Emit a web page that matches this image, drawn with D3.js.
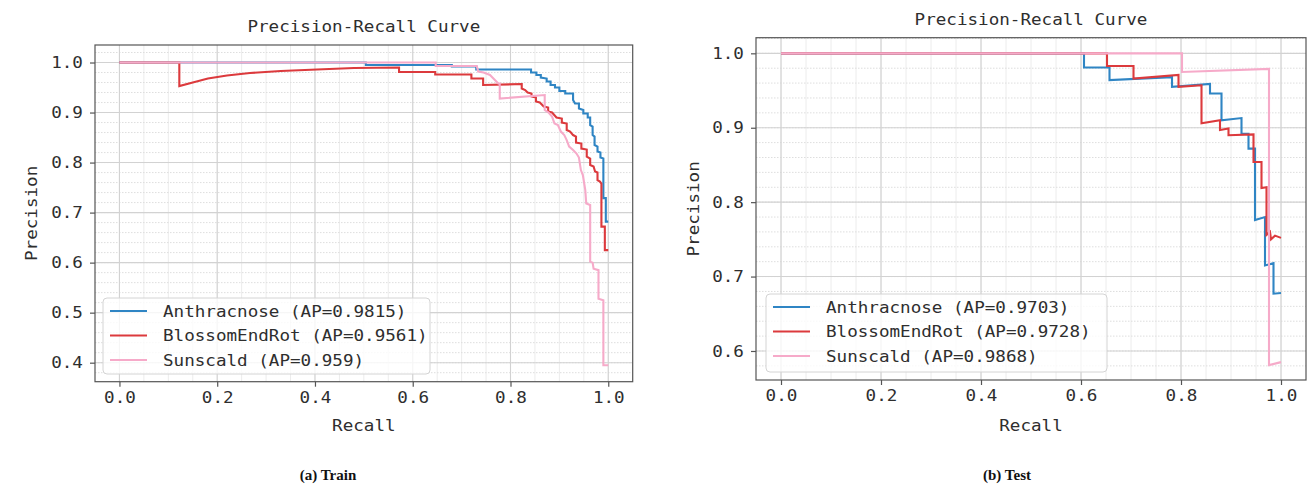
<!DOCTYPE html>
<html>
<head>
<meta charset="utf-8">
<script src="https://d3js.org/d3.v7.min.js"></script>
<style>
body { margin: 0; background: #fff; }
svg { display: block; }
</style>
</head>
<body>
<svg id="chart" width="1309" height="487"></svg>
<script>
// class names, colours and AP values shown in the legends
var classNames = ["Anthracnose", "BlossomEndRot", "Sunscald"];
var classColors = ["#2f85c4", "#dc3a3d", "#f6aac9"];
var trainAP = ["0.9815", "0.9561", "0.959"];
var testAP = ["0.9703", "0.9728", "0.9868"];

// tick labels
var recallTicks = [0.0, 0.2, 0.4, 0.6, 0.8, 1.0];
var trainPrecisionTicks = [0.4, 0.5, 0.6, 0.7, 0.8, 0.9, 1.0];
var testPrecisionTicks = [0.6, 0.7, 0.8, 0.9, 1.0];

// curves, [recall, precision]
var trainAnthracnose = [[0,1.0],[0.504,1.0],[0.504,0.995],[0.680,0.995],[0.680,0.992],[0.730,0.992],[0.730,0.986],
  [0.842,0.986],[0.842,0.980],[0.853,0.980],[0.853,0.975],[0.862,0.975],[0.862,0.970],[0.874,0.968],[0.874,0.962],
  [0.882,0.962],[0.882,0.955],[0.891,0.955],[0.891,0.950],[0.900,0.950],[0.900,0.943],[0.912,0.943],[0.912,0.938],
  [0.928,0.938],[0.928,0.925],[0.932,0.918],[0.940,0.918],[0.940,0.908],[0.949,0.905],[0.949,0.898],[0.958,0.898],
  [0.958,0.890],[0.963,0.890],[0.963,0.875],[0.968,0.872],[0.968,0.855],[0.972,0.852],[0.972,0.835],[0.978,0.832],
  [0.978,0.822],[0.984,0.820],[0.984,0.810],[0.990,0.808],[0.990,0.729],[0.995,0.729],[0.995,0.682],[1.0,0.682]];
var trainBlossomEndRot = [[0,1.0],[0.1225,1.0],[0.1225,0.953],[0.15,0.960],[0.181,0.968],[0.22,0.974],[0.267,0.979],
  [0.33,0.983],[0.404,0.986],[0.48,0.989],[0.572,0.990],[0.572,0.981],[0.646,0.981],[0.646,0.976],[0.720,0.976],
  [0.720,0.968],[0.744,0.968],[0.744,0.955],[0.823,0.957],[0.823,0.948],[0.830,0.945],[0.835,0.940],[0.843,0.938],
  [0.843,0.932],[0.852,0.930],[0.852,0.922],[0.860,0.920],[0.868,0.912],[0.877,0.910],[0.877,0.902],[0.885,0.900],
  [0.894,0.890],[0.905,0.888],[0.905,0.880],[0.915,0.878],[0.915,0.865],[0.922,0.862],[0.928,0.855],[0.934,0.852],
  [0.934,0.840],[0.945,0.838],[0.945,0.828],[0.956,0.826],[0.956,0.812],[0.963,0.808],[0.963,0.795],[0.970,0.792],
  [0.973,0.782],[0.978,0.780],[0.978,0.765],[0.983,0.762],[0.986,0.758],[0.986,0.672],[0.993,0.672],[0.993,0.625],
  [1.0,0.625]];
var trainSunscald = [[0,1.0],[0.647,1.0],[0.647,0.993],[0.731,0.993],[0.734,0.982],[0.745,0.980],[0.758,0.975],
  [0.775,0.958],[0.778,0.958],[0.778,0.928],[0.870,0.935],[0.870,0.905],[0.878,0.900],[0.885,0.892],[0.890,0.878],
  [0.897,0.875],[0.903,0.862],[0.910,0.855],[0.915,0.845],[0.920,0.832],[0.928,0.825],[0.935,0.818],[0.940,0.810],
  [0.944,0.785],[0.948,0.775],[0.953,0.745],[0.955,0.718],[0.963,0.715],[0.963,0.602],[0.968,0.600],[0.970,0.588],
  [0.980,0.585],[0.980,0.528],[0.990,0.525],[0.990,0.395],[1.0,0.395]];

var testAnthracnose = [[0,1.0],[0.606,1.0],[0.606,0.981],[0.657,0.981],[0.657,0.964],[0.782,0.968],[0.782,0.955],
  [0.858,0.959],[0.858,0.946],[0.881,0.946],[0.881,0.910],[0.921,0.913],[0.921,0.892],[0.935,0.892],[0.935,0.872],
  [0.948,0.872],[0.948,0.776],[0.968,0.780],[0.968,0.715],[0.985,0.718],[0.985,0.677],[1.0,0.678]];
var testBlossomEndRot = [[0,1.0],[0.652,1.0],[0.652,0.983],[0.705,0.983],[0.705,0.966],[0.795,0.971],[0.795,0.955],
  [0.841,0.957],[0.841,0.906],[0.878,0.910],[0.878,0.897],[0.895,0.899],[0.895,0.890],[0.945,0.891],[0.945,0.854],
  [0.961,0.854],[0.961,0.819],[0.971,0.820],[0.971,0.756],[0.978,0.760],[0.980,0.750],[0.988,0.755],[1.0,0.752]];
var testSunscald = [[0,1.0],[0.802,1.0],[0.802,0.975],[0.976,0.979],[0.976,0.581],[1.0,0.585]];

var svg = d3.select("#chart");
var monoFont = "'DejaVu Sans Mono', monospace";
var stretch = 1.1;   // text in the picture is a bit wider than the font

//draw one panel
function drawPanel(p) {
	var g = svg.append("g");
	var x = d3.scaleLinear().domain([-0.05, 1.05]).range(p.xRange);
	var y = d3.scaleLinear().domain(p.yDomain).range(p.yRange);

	//minor grid
	var minorX = d3.range(0, 1.0001, 0.05);
	var minorY = d3.range(0, 1.05, 0.02).filter(function(v) { return v > p.yDomain[0] && v < p.yDomain[1]; });
	g.selectAll(".minx").data(minorX).enter().append("line")
	.attr("x1", function(d) { return x(d); }).attr("x2", function(d) { return x(d); })
	.attr("y1", p.yRange[0]).attr("y2", p.yRange[1])
	.attr("stroke", "#ececec").attr("stroke-width", 1);
	g.selectAll(".miny").data(minorY).enter().append("line")
	.attr("x1", p.xRange[0]).attr("x2", p.xRange[1])
	.attr("y1", function(d) { return y(d); }).attr("y2", function(d) { return y(d); })
	.attr("stroke", "#dedede").attr("stroke-width", 1).attr("stroke-dasharray", "1.5,1.5");

	//major grid
	g.selectAll(".majx").data(recallTicks).enter().append("line")
	.attr("x1", function(d) { return x(d); }).attr("x2", function(d) { return x(d); })
	.attr("y1", p.yRange[0]).attr("y2", p.yRange[1])
	.attr("stroke", "#d2d2d2").attr("stroke-width", 1.1);
	g.selectAll(".majy").data(p.yTicks).enter().append("line")
	.attr("x1", p.xRange[0]).attr("x2", p.xRange[1])
	.attr("y1", function(d) { return y(d); }).attr("y2", function(d) { return y(d); })
	.attr("stroke", "#d2d2d2").attr("stroke-width", 1.1);

	//curves
	var line = d3.line().x(function(d) { return x(d[0]); }).y(function(d) { return y(d[1]); });
	g.selectAll(".curve").data(p.series).enter().append("path")
	.attr("d", line)
	.attr("fill", "none")
	.attr("stroke", function(d, i) { return classColors[i]; })
	.attr("stroke-width", 2.1)
	.attr("stroke-linejoin", "miter");

	//frame
	g.append("rect")
	.attr("x", p.xRange[0]).attr("y", p.yRange[1])
	.attr("width", p.xRange[1] - p.xRange[0]).attr("height", p.yRange[0] - p.yRange[1])
	.attr("fill", "none").attr("stroke", "#555").attr("stroke-width", 1.2);

	//axes
	var xAxis = g.append("g")
	.attr("transform", "translate(0," + p.yRange[0] + ")")
	.call(d3.axisBottom(x).tickValues(recallTicks).tickFormat(d3.format(".1f")).tickSize(5).tickPadding(5));
	var yAxis = g.append("g")
	.attr("transform", "translate(" + p.xRange[0] + ",0)")
	.call(d3.axisLeft(y).tickValues(p.yTicks).tickFormat(d3.format(".1f")).tickSize(5).tickPadding(6));
	[xAxis, yAxis].forEach(function(a) {
		a.select(".domain").remove();
		a.selectAll("line").attr("stroke", "#555").attr("stroke-width", 1.2);
		a.selectAll("text").attr("font-family", monoFont).attr("font-size", 16).attr("fill", "#2e2e2e")
		.attr("transform", "scale(" + stretch + ",1)");
	});

	//legend
	var lg = g.append("g");
	lg.append("rect")
	.attr("x", p.legend.x).attr("y", p.legend.y)
	.attr("width", p.legend.w).attr("height", p.legend.h)
	.attr("rx", 4).attr("fill", "#fff").attr("fill-opacity", 0.8)
	.attr("stroke", "#d4d4d4").attr("stroke-width", 1);
	classNames.forEach(function(name, i) {
		var cy = p.legend.y + 13 + i * 24.5;
		lg.append("line")
		.attr("x1", p.legend.x + 7).attr("x2", p.legend.x + 44)
		.attr("y1", cy).attr("y2", cy)
		.attr("stroke", classColors[i]).attr("stroke-width", 2.1);
		mono(lg, p.legend.x + 60, cy + 5.5, name + " (AP=" + p.ap[i] + ")", "start");
	});

	//titles
	var cx = (p.xRange[0] + p.xRange[1]) / 2;
	mono(g, cx, p.titleY, "Precision-Recall Curve", "middle");
	mono(g, cx, 431, "Recall", "middle");
	g.append("text")
	.attr("transform", "translate(" + p.yLabelX + "," + ((p.yRange[0] + p.yRange[1]) / 2) + ") rotate(-90) scale(" + stretch + ",1)")
	.attr("text-anchor", "middle")
	.attr("font-family", monoFont).attr("font-size", 16).attr("fill", "#2e2e2e")
	.text("Precision");
	g.append("text")
	.attr("x", p.captionX).attr("y", 480)
	.attr("text-anchor", "middle")
	.attr("font-family", "'Liberation Serif', 'Times New Roman', serif")
	.attr("font-weight", "bold").attr("font-size", 15).attr("fill", "#111")
	.text(p.caption);
}

//monospace text stretched horizontally
function mono(parent, x, y, str, anchor) {
	return parent.append("text")
	.attr("transform", "translate(" + x + "," + y + ") scale(" + stretch + ",1)")
	.attr("text-anchor", anchor)
	.attr("font-family", monoFont).attr("font-size", 16).attr("fill", "#2e2e2e")
	.text(str);
}

drawPanel({
	xRange: [95, 632.7], yDomain: [0.362, 1.035], yRange: [381.7, 45],
	yTicks: trainPrecisionTicks,
	series: [trainAnthracnose, trainBlossomEndRot, trainSunscald],
	ap: trainAP,
	legend: {x: 103, y: 298, w: 327, h: 76},
	titleY: 32, yLabelX: 37, captionX: 328, caption: "(a) Train"
});

drawPanel({
	xRange: [756, 1306], yDomain: [0.561, 1.021], yRange: [380, 37.7],
	yTicks: testPrecisionTicks,
	series: [testAnthracnose, testBlossomEndRot, testSunscald],
	ap: testAP,
	legend: {x: 766, y: 294, w: 341, h: 78},
	titleY: 25, yLabelX: 699, captionX: 1007, caption: "(b) Test"
});
</script>
</body>
</html>
